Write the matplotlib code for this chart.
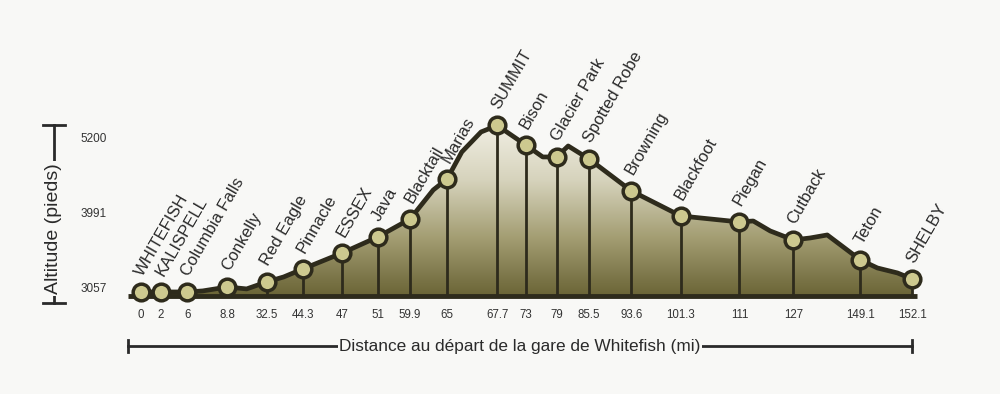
import numpy as np
import matplotlib
matplotlib.use("Agg")
import matplotlib.pyplot as plt
from matplotlib.lines import Line2D
from matplotlib.colors import LinearSegmentedColormap

# stations along the line (schematic position 0-100 as drawn, altitude in feet)
stations = ["WHITEFISH", "KALISPELL", "Columbia Falls", "Conkelly", "Red Eagle",
            "Pinnacle", "ESSEX", "Java", "Blacktail", "Marias", "SUMMIT", "Bison",
            "Glacier Park", "Spotted Robe", "Browning", "Blackfoot", "Piegan",
            "Cutback", "Teton", "SHELBY"]
distance = ["0", "2", "6", "8.8", "32.5", "44.3", "47", "51", "59.9", "65", "67.7",
            "73", "79", "85.5", "93.6", "101.3", "111", "127", "149.1", "152.1"]
station_pos = [0, 2.6, 6.0, 11.2, 16.3, 21.0, 26.1, 30.7, 34.9, 39.7, 46.2,
               49.9, 53.9, 58.1, 63.6, 70.0, 77.6, 84.6, 93.3, 100]
station_alt = [3007, 3007, 3007, 3069, 3132, 3294, 3493, 3692, 3916, 4539, 5402,
               5087, 4894, 4862, 4346, 3954, 3879, 3655, 3406, 3169]

# bends of the profile between stations
bend_pos = [8.0, 13.7, 18.5, 37.9, 41.6, 44.1, 52.1, 55.4, 79.4, 81.6, 86.8, 89.0, 95.5, 98.1]
bend_alt = [3020, 3045, 3194, 4362, 4974, 5297, 4894, 5071, 3891, 3767, 3680, 3717, 3306, 3244]

alt_ticks = [3057, 3991, 5200]
base_alt = 2957

# axis drawn with evenly spaced altitude marks
def fwd(a):
    a = np.asarray(a, dtype=float)
    return np.where(a < alt_ticks[1], (a - alt_ticks[0]) / (alt_ticks[1] - alt_ticks[0]),
                    1 + (a - alt_ticks[1]) / (alt_ticks[2] - alt_ticks[1]))

def inv(u):
    u = np.asarray(u, dtype=float)
    return np.where(u < 1, alt_ticks[0] + u * (alt_ticks[1] - alt_ticks[0]),
                    alt_ticks[1] + (u - 1) * (alt_ticks[2] - alt_ticks[1]))

bg = "#f8f8f6"
dark = "#2e2b1c"
txt = "#2a2a2a"

prof = sorted(zip(station_pos + bend_pos, station_alt + bend_alt))
prof_pos = [p for p, a in prof]
prof_alt = [a for p, a in prof]

fig = plt.figure(figsize=(10, 3.94), dpi=100, facecolor=bg)
ax = fig.add_axes([0.112, 0.226, 0.888, 0.774])
ax.set_facecolor(bg)
ax.set_yscale("function", functions=(fwd, inv))
ax.set_xlim(-3.76, 111.4)
ax.set_ylim(float(inv(-0.2267)), float(inv(3.84)))
for s in ax.spines.values():
    s.set_visible(False)

# gradient fill under the profile
fill = ax.fill_between(prof_pos, base_alt, prof_alt, color="none", lw=0)
cmap = LinearSegmentedColormap.from_list("olive", ["#6a6436", "#a39d72", "#d6d3bc", "#f2f0e5"])
grad = np.linspace(0, 1, 256).reshape(-1, 1)
im = ax.imshow(grad, cmap=cmap, aspect="auto", origin="lower",
               extent=[0, 1, 0.03, 0.60], transform=ax.transAxes, zorder=1)
im.set_clip_path(fill.get_paths()[0], transform=ax.transData)

ax.vlines(station_pos, base_alt, station_alt, color=dark, lw=2, zorder=2)
ax.hlines(base_alt, -1.7, 100.6, color=dark, lw=3.5, zorder=3)
ax.plot(prof_pos, prof_alt, color=dark, lw=3.4, solid_joinstyle="round", zorder=3)
ax.plot(station_pos, station_alt, "o", ms=12, mfc="#cdc98f", mec=dark, mew=2.5, zorder=4)

for name, p, a in zip(stations, station_pos, station_alt):
    ax.annotate(name, (p, a), xytext=(1.5, 11), textcoords="offset points",
                rotation=60, rotation_mode="anchor", ha="left", va="baseline",
                fontsize=12, color=txt, family=["Liberation Sans", "DejaVu Sans"])

ax.set_xticks(station_pos, distance)
ax.set_yticks(alt_ticks, [str(t) for t in alt_ticks])
ax.yaxis.set_minor_locator(matplotlib.ticker.NullLocator())
ax.tick_params(axis="x", length=0, pad=3, labelsize=8.3, labelcolor="#333333")
ax.tick_params(axis="y", length=0, pad=4, labelsize=8.5, labelcolor="#333333")
for lab in ax.get_xticklabels():
    lab.set_family(["Liberation Sans Narrow", "Liberation Sans", "DejaVu Sans"])
for lab in ax.get_yticklabels():
    lab.set_family(["Liberation Sans", "DejaVu Sans"])

# altitude bracket on the left
bx = 0.054
fig.add_artist(Line2D([bx, bx], [0.231, 0.683], color=txt, lw=2))
fig.add_artist(Line2D([bx - 0.011, bx + 0.011], [0.683, 0.683], color=txt, lw=2))
fig.add_artist(Line2D([bx - 0.011, bx + 0.011], [0.231, 0.231], color=txt, lw=2))
fig.text(bx, 0.421, "Altitude (pieds)", rotation=90, ha="center", va="center",
         fontsize=14, color=txt, family=["Liberation Sans", "DejaVu Sans"],
         bbox=dict(facecolor=bg, edgecolor="none", pad=1.5))

# distance bracket at the bottom
tr = matplotlib.transforms.blended_transform_factory(ax.transData, fig.transFigure)
by = 0.1218
ax.add_artist(Line2D([-1.7, 100], [by, by], color=txt, lw=2, transform=tr, clip_on=False))
ax.add_artist(Line2D([-1.7, -1.7], [by - 0.016, by + 0.016], color=txt, lw=2, transform=tr, clip_on=False))
ax.add_artist(Line2D([100, 100], [by - 0.016, by + 0.016], color=txt, lw=2, transform=tr, clip_on=False))
ax.text(49.15, by, "Distance au départ de la gare de Whitefish (mi)", transform=tr,
        ha="center", va="center", fontsize=12.4, color=txt,
        family=["Liberation Sans", "DejaVu Sans"],
        bbox=dict(facecolor=bg, edgecolor="none", pad=1))

fig.savefig("out.png", dpi=100, facecolor=bg)
